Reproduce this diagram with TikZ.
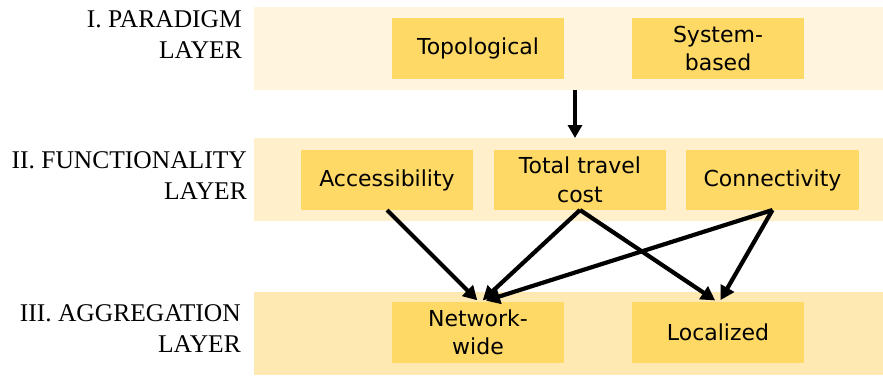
\documentclass[tikz,border=0pt]{standalone}
\usepackage{fontspec}
\setmainfont{Liberation Serif}
\newfontfamily\boxfamily{DejaVu Sans}
\usetikzlibrary{arrows.meta,calc}
\definecolor{bandA}{HTML}{FFF5DF}
\definecolor{bandB}{HTML}{FFF0CB}
\definecolor{bandC}{HTML}{FFE9B2}
\definecolor{boxfill}{HTML}{FFD966}
\tikzset{
  band/.style={draw=none, inner sep=0pt, outer sep=0pt, minimum width=629pt, minimum height=83pt},
  itembox/.style={draw=none, fill=boxfill, inner sep=0pt, outer sep=0pt, minimum width=172pt, minimum height=61pt,
    align=center, font=\boxfamily\fontsize{22}{28.5}\selectfont, text=black},
  layerlabel/.style={anchor=east, align=right, inner sep=0pt, font=\fontsize{25.5}{30.5}\selectfont, text=black},
  linkarrow/.style={draw=black, line width=4.2pt, -{Triangle[length=14pt,width=15pt]}, shorten >=1pt},
  downarrow/.style={draw=black, line width=3.2pt, -{Triangle[length=13pt,width=14pt]}}
}
\begin{document}
\begin{tikzpicture}[x=1pt,y=-1pt]
\useasboundingbox (0,0) rectangle (883,375);
\fill[white] (0,0) rectangle (883,375);
% bands
\node[band, fill=bandA] (pband) at (568.5,48.5) {};
\node[band, fill=bandB] (fband) at (568.5,179.5) {};
\node[band, fill=bandC] (aband) at (568.5,333.5) {};
% layer labels
\node[layerlabel] (lp) at (242,34.5) {I. PARADIGM\\LAYER};
\node[layerlabel] (lf) at (247,175.5) {II. FUNCTIONALITY\\LAYER};
\node[layerlabel] (la) at (241,328.5) {III. AGGREGATION\\LAYER};
% boxes
\node[itembox] (topo) at (478,48.5) {Topological};
\node[itembox] (sys) at (718,48.5) {System-\\based};
\node[itembox, minimum height=60pt] (acc) at (387,180) {Accessibility};
\node[itembox, minimum height=60pt] (ttc) at (580,180) {Total travel\\cost};
\node[itembox, minimum height=60pt, minimum width=173pt] (conn) at (772.5,180) {Connectivity};
\node[itembox] (nw) at (478,332.5) {Network-\\wide};
\node[itembox] (loc) at (718,332.5) {Localized};
% arrows
\draw[downarrow] ($(pband.south -| ttc.north)+(-5,0)$) -- ($(fband.north -| ttc.north)+(-5,0)$);
\draw[linkarrow] (acc.south) -- ($(nw.north)+(0,-1)$);
\draw[linkarrow] (ttc.south) -- ($(nw.north)+(4,-1)$);
\draw[linkarrow] (conn.south) -- ($(nw.north)+(7,-1)$);
\draw[linkarrow] (ttc.south) -- ($(loc.north)+(-2,-1)$);
\draw[linkarrow] (conn.south) -- ($(loc.north)+(2,-1)$);
\end{tikzpicture}
\end{document}
